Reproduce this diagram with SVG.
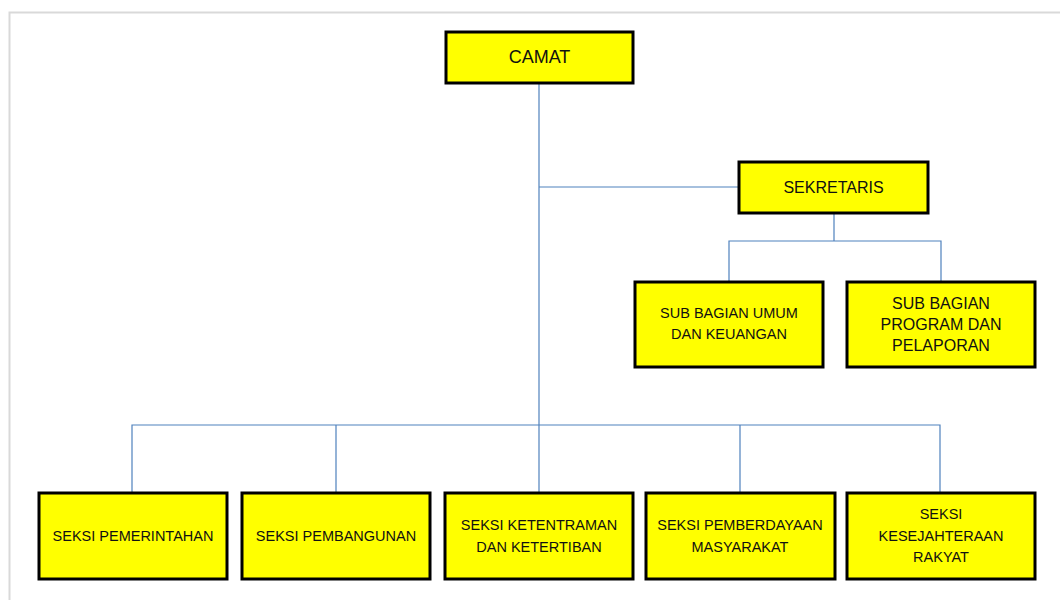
<svg xmlns="http://www.w3.org/2000/svg" width="1060" height="600" viewBox="0 0 1060 600">
<style>
.box{fill:#ffff00;stroke:#000;stroke-width:3}
.t{font-family:"Liberation Sans",Arial,sans-serif;fill:#111;text-anchor:middle;dominant-baseline:central}
.s{font-size:14.5px}
.l{font-size:16px}
.c{stroke:#4f81bd;stroke-width:1.2;fill:none}
</style>
<rect width="1060" height="600" fill="#fff"/>
<path d="M9.5 600V12.5H1060" fill="none" stroke="#d9d9d9" stroke-width="2"/>
<g id="connectors">
<path class="c" d="M539 83V492"/>
<path class="c" d="M539 187H738"/>
<path class="c" d="M834 213V241M729 281V241H941V281"/>
<path class="c" d="M132 492V425H940V492M336 425V492M740 425V492"/>
</g>
<g id="camat"><rect class="box" x="446" y="32" width="187" height="51"/><text class="t" x="539.5" y="57" font-size="18">CAMAT</text></g>
<g id="sekretaris"><rect class="box" x="739" y="162" width="189" height="51"/><text class="t" x="833.5" y="187" font-size="16">SEKRETARIS</text></g>
<g id="subumum"><rect class="box" x="635" y="282" width="188" height="85"/><text class="t" x="729" y="313" font-size="14.5">SUB BAGIAN UMUM</text><text class="t" x="729" y="334" font-size="14.5">DAN KEUANGAN</text></g>
<g id="subprogram"><rect class="box" x="847" y="282" width="188" height="85"/><text class="t l" x="941" y="303">SUB BAGIAN</text><text class="t l" x="941" y="324">PROGRAM DAN</text><text class="t l" x="941" y="345">PELAPORAN</text></g>
<g id="pemerintahan"><rect class="box" x="39" y="493" width="188" height="86"/><text class="t s" x="133" y="536">SEKSI PEMERINTAHAN</text></g>
<g id="pembangunan"><rect class="box" x="242" y="493" width="188" height="86"/><text class="t s" x="336" y="536">SEKSI PEMBANGUNAN</text></g>
<g id="ketentraman"><rect class="box" x="445" y="493" width="188" height="86"/><text class="t s" x="539" y="525">SEKSI KETENTRAMAN</text><text class="t s" x="539" y="547">DAN KETERTIBAN</text></g>
<g id="pemberdayaan"><rect class="box" x="646" y="493" width="189" height="86"/><text class="t s" x="740" y="525">SEKSI PEMBERDAYAAN</text><text class="t s" x="740" y="547">MASYARAKAT</text></g>
<g id="kesejahteraan"><rect class="box" x="847" y="493" width="188" height="86"/><text class="t s" x="941" y="514">SEKSI</text><text class="t s" x="941" y="536">KESEJAHTERAAN</text><text class="t s" x="941" y="557">RAKYAT</text></g>
</svg>
